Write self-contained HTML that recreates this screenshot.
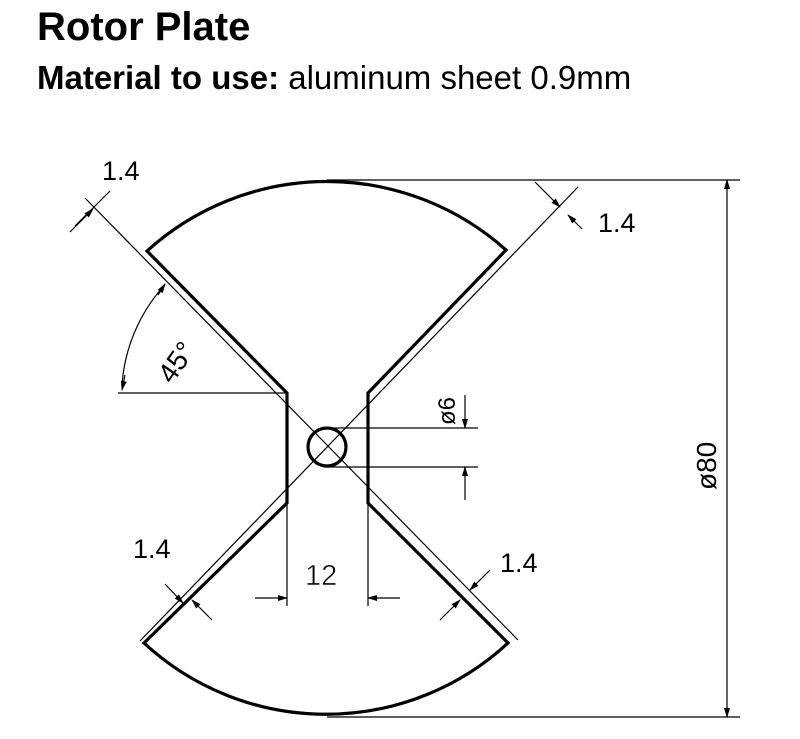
<!DOCTYPE html>
<html><head><meta charset="utf-8"><style>
body{margin:0;background:#fff;width:800px;height:739px;overflow:hidden;font-family:"Liberation Sans",sans-serif}
.t1{position:absolute;left:37px;top:4px;font-size:40px;font-weight:bold;color:#000;line-height:46px}
.t2{position:absolute;left:37px;top:58px;font-size:33px;color:#000;line-height:40px}
svg{position:absolute;left:0;top:0}
</style></head><body>
<div class="t1">Rotor Plate</div>
<div class="t2"><b>Material to use:</b> aluminum sheet 0.9mm</div>
<svg width="800" height="739" viewBox="0 0 800 739">
<defs><marker id="a" markerWidth="10" markerHeight="6" refX="9" refY="3" orient="auto" markerUnits="userSpaceOnUse"><path d="M0,0 L10,3 L0,6z" fill="#000"/></marker></defs>
<g fill="none" stroke="#000">
<path d="M147,251 A268,268 0 0 1 506,250 L368,393 L368,503 L508,643 A268,268 0 0 1 144,643 L287,503 L287,393 Z" stroke-width="3.2" stroke-linejoin="miter"/>
<circle cx="327" cy="447" r="19" stroke-width="3.2"/>
<g stroke-width="1.2">
<line x1="85" y1="198" x2="518" y2="640"/>
<line x1="578" y1="187" x2="140" y2="641"/>
<line x1="118" y1="393" x2="287" y2="393"/>
<line x1="327" y1="180" x2="740" y2="180"/>
<line x1="327" y1="717" x2="740" y2="717"/>
<line x1="727" y1="200" x2="727" y2="180" marker-end="url(#a)"/>
<line x1="727" y1="200" x2="727" y2="717" marker-end="url(#a)"/>
<line x1="327" y1="428" x2="478" y2="428"/>
<line x1="327" y1="467" x2="478" y2="467"/>
<line x1="465" y1="395" x2="465" y2="428" marker-end="url(#a)"/>
<line x1="465" y1="500" x2="465" y2="467" marker-end="url(#a)"/>
<line x1="287" y1="503" x2="287" y2="606"/>
<line x1="368" y1="503" x2="368" y2="606"/>
<line x1="255" y1="598" x2="287" y2="598" marker-end="url(#a)"/>
<line x1="400" y1="598" x2="368" y2="598" marker-end="url(#a)"/>
<path d="M122,385 A165,165 0 0 1 163,287" />
<line x1="125" y1="375" x2="122" y2="390" marker-end="url(#a)"/>
<line x1="158" y1="295" x2="165" y2="284" marker-end="url(#a)"/>
<line x1="70" y1="232" x2="93" y2="209" marker-end="url(#a)"/>
<line x1="75" y1="226" x2="110" y2="191" />
<line x1="535" y1="182" x2="560" y2="207" marker-end="url(#a)"/>
<line x1="582" y1="229" x2="568" y2="215" marker-end="url(#a)"/>
<line x1="165" y1="584" x2="183" y2="603" marker-end="url(#a)"/>
<line x1="212" y1="620" x2="192" y2="600" marker-end="url(#a)"/>
<line x1="490" y1="570" x2="470" y2="590" marker-end="url(#a)"/>
<line x1="440" y1="620" x2="460" y2="600" marker-end="url(#a)"/>
</g></g>
<g font-family="Liberation Sans, sans-serif" fill="#000">
<text x="102" y="180" font-size="27">1.4</text>
<text x="598" y="232" font-size="27">1.4</text>
<text x="133" y="558" font-size="27">1.4</text>
<text x="500" y="572" font-size="27">1.4</text>
<text x="305" y="585" font-size="29" font-weight="300" stroke="#fff" stroke-width="0.6">12</text>
<text transform="translate(172,385) rotate(-55)" font-size="28" font-weight="300">45°</text>
<text transform="translate(716,490) rotate(-90)" font-size="28">ø80</text>
<text transform="translate(455,425) rotate(-90)" font-size="24">ø6</text>
</g>
</svg>
</body></html>
